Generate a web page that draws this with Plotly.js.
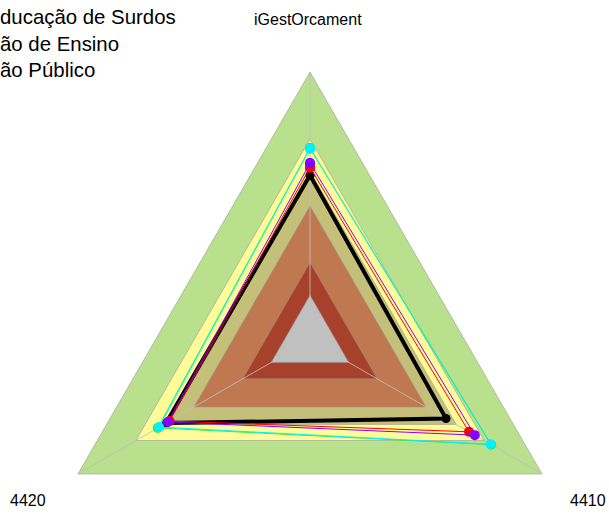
<!DOCTYPE html>
<html>
<head>
<meta charset="utf-8">
<script src="https://cdn.plot.ly/plotly-3.0.1.min.js"></script>
<style>
html,body{margin:0;padding:0;background:#fff;}
#chart{width:609px;height:516px;}
/* let the triangle bands extend across the whole polar area (sector is only used for sizing) */
#chart .polarlayer g, #chart .polarlayer path { clip-path: none !important; }
</style>
</head>
<body>
<div id="chart"></div>
<script>
// Axis categories (counterclockwise from the top)
var categories = ['iGestOrcament', '4420', '4410'];

// Background bands (outer radius of each level, outermost first)
var bandLevels = [1.0, 0.75, 0.63, 0.50, 0.29, 0.167];
var bandColors = ['#b9e08c', '#fffb99', '#c4c07a', '#c07850', '#a8412c', '#c0c0c0'];

// Series values (iGestOrcament, 4420, 4410)
var seriesNames = ['Preto', 'Verde', 'Ciano', 'Vermelho', 'Roxo'];
var seriesBlack  = [0.615, 0.62, 0.586];
var seriesGreen  = [0.716, 0.656, 0.781];
var seriesCyan   = [0.714, 0.65, 0.778];
var seriesRed    = [0.644, 0.605, 0.685];
var seriesPurple = [0.66, 0.612, 0.71];

var seriesValues = [seriesBlack, seriesGreen, seriesCyan, seriesRed, seriesPurple];
var seriesColors = ['#000000', '#33ee44', '#00f0ff', '#ff0000', '#8800ff'];
var seriesWidths = [4, 1, 1, 1, 1];
var seriesMarker = [9, 10, 10, 10, 10];

var titleLines = ['ducação de Surdos', 'ão de Ensino', 'ão Público'];

function closed(arr) { return arr.concat([arr[0]]); }

var traces = [];
bandLevels.forEach(function (lvl, i) {
  traces.push({
    type: 'scatterpolar',
    r: closed(categories.map(function () { return lvl; })),
    theta: closed(categories),
    mode: 'lines',
    fill: 'toself',
    fillcolor: bandColors[i],
    line: { color: 'rgba(150,150,150,0.55)', width: 1 },
    hoverinfo: 'skip',
    showlegend: false
  });
});

// spokes
var spokeR = [], spokeT = [];
categories.forEach(function (c, i) {
  spokeR.push(0, 1); spokeT.push(c, c);
  if (i < categories.length - 1) { spokeR.push(null); spokeT.push(null); }
});
traces.push({
  type: 'scatterpolar', r: spokeR, theta: spokeT, mode: 'lines',
  line: { color: 'rgba(190,190,190,0.85)', width: 1 },
  connectgaps: false, hoverinfo: 'skip', showlegend: false
});

seriesValues.forEach(function (vals, i) {
  traces.push({
    type: 'scatterpolar',
    name: seriesNames[i],
    r: closed(vals),
    theta: closed(categories),
    mode: 'lines+markers',
    line: { color: seriesColors[i], width: seriesWidths[i] },
    marker: { color: seriesColors[i], size: seriesMarker[i] },
    showlegend: false,
    cliponaxis: false
  });
});

// axis label placement (paper coordinates of the plot area)
var labelX = [0.496, -0.026, 1.019];
var labelY = [1.13, -0.065, -0.065];
var annotations = categories.map(function (c, i) {
  return {
    text: c, xref: 'paper', yref: 'paper', x: labelX[i], y: labelY[i],
    xanchor: 'center', yanchor: 'middle', showarrow: false,
    font: { family: 'Liberation Sans, Arial, sans-serif', size: 16, color: '#000' }
  };
});

var layout = {
  width: 609, height: 516,
  margin: { l: 42, r: 31, t: 72, b: 42, pad: 0 },
  paper_bgcolor: '#ffffff',
  showlegend: false,
  annotations: annotations,
  title: {
    text: titleLines.join('<br>'),
    x: 0, xref: 'container', xanchor: 'left',
    y: 0.953, yref: 'container', yanchor: 'top',
    pad: { l: 0, t: 0 },
    font: { family: 'Liberation Sans, Arial, sans-serif', size: 20.4, color: '#000' }
  },
  polar: {
    domain: { x: [0, 1], y: [0, 1] },
    sector: [-30, 210],
    bgcolor: 'rgba(0,0,0,0)',
    radialaxis: { visible: false, range: [0, 1] },
    angularaxis: {
      type: 'category',
      categoryarray: categories,
      rotation: 90,
      direction: 'counterclockwise',
      showticklabels: false,
      showgrid: false,
      showline: false,
      ticks: ''
    }
  }
};

Plotly.newPlot('chart', traces, layout, { displayModeBar: false, staticPlot: true });
</script>
</body>
</html>
